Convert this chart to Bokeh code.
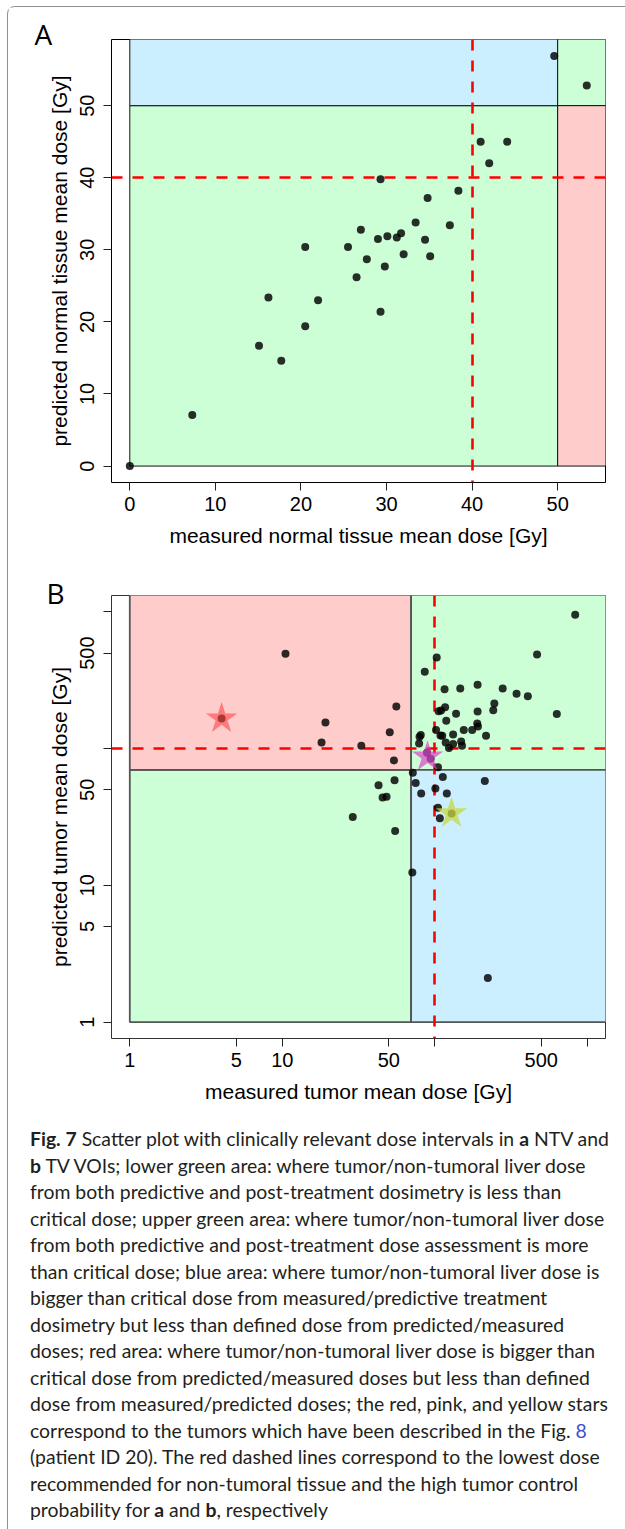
from bokeh.plotting import figure
from bokeh.models import Range1d, FixedTicker, Title, Div
from bokeh.layouts import column
from bokeh.embed import file_html
from bokeh.resources import INLINE

# ---------------- Panel A: normal tissue (NTV) ----------------
a_measured = [0.0, 7.3, 15.1, 17.7, 16.2, 22.0, 20.5, 29.3, 26.5, 29.8, 25.5, 20.5,
              27.7, 32.0, 35.1, 27.0, 29.0, 30.1, 31.2, 31.7, 34.5, 33.4, 37.4,
              34.8, 38.4, 29.3, 42.0, 41.0, 44.1, 49.6, 53.4]
a_predicted = [0.0, 7.1, 16.7, 14.6, 23.4, 23.0, 19.4, 21.4, 26.2, 27.7, 30.4, 30.4,
               28.7, 29.4, 29.1, 32.8, 31.5, 31.9, 31.7, 32.3, 31.4, 33.8, 33.4,
               37.2, 38.2, 39.8, 42.0, 45.0, 45.0, 56.9, 52.8]
a_ticks = [0, 10, 20, 30, 40, 50]
a_limit = 50      # dose interval boundary
a_dash = 40       # lowest recommended dose
a_xlim = (-2.14, 55.59)
a_ylim = (-2.28, 59.18)

# ---------------- Panel B: tumor (TV) ----------------
b_measured = [834, 10.5, 469, 103, 86, 116, 147, 191, 279, 344, 408, 56, 246, 242, 632,
              106, 110, 117, 138, 191, 119, 19.2, 190, 192, 155, 176, 50.7, 102, 81,
              79.5, 109, 112, 132, 217, 18.1, 33, 79, 118, 132, 149, 151, 124, 54,
              89, 94, 105, 71.8, 75, 113, 213, 54.5, 42.8, 101, 81.5, 120, 45.5, 48.3,
              105, 108, 29, 55, 129, 4.0, 71.3, 223]
b_predicted = [955, 494, 489, 464, 365, 272, 275, 293, 275, 252, 242, 203, 214, 191, 179,
               188, 190, 201, 180, 187, 160, 155, 153, 145, 137, 137, 132, 137, 126,
               122, 125, 124, 127, 124, 111, 105, 109, 111, 108, 113, 105, 101, 82,
               93.5, 84.5, 73, 66.7, 56, 62, 58, 58.7, 54, 51, 47, 47, 44, 44.5,
               37, 31, 31.6, 25, 33.6, 166, 12.4, 2.1]
b_ticks = [1, 5, 10, 50, 100, 500, 1000]
b_tick_labels = ["1", "5", "10", "50", "", "500", ""]
b_limit = 70
b_dash = 100
b_lim = (10 ** -0.12, 10 ** 3.12)

star_measured = [4.0, 89.7, 129]
star_predicted = [166, 87.4, 33.6]
star_colors = ["#ff4444", "#dd44cc", "#c8d840"]
star_alphas = [0.6, 0.7, 0.75]

GREEN = "#ccffd5"
BLUE = "#ccefff"
PINK = "#ffcccc"
FONT = "Liberation Sans"
BIG = 1e5


def style(p, line_color):
    p.outline_line_color = line_color
    p.outline_line_width = 1
    p.grid.visible = False
    p.background_fill_color = "white"
    for ax in p.axis:
        ax.major_tick_out = 8
        ax.major_tick_in = 0
        ax.minor_tick_out = 0
        ax.minor_tick_in = 0
        ax.axis_line_color = None
        ax.major_tick_line_color = "#222222"
        ax.major_label_text_font = FONT
        ax.major_label_text_font_size = "20px"
        ax.major_label_text_color = "black"
        ax.axis_label_text_font = FONT
        ax.axis_label_text_font_size = "21px"
        ax.axis_label_text_font_style = "normal"
        ax.axis_label_text_color = "black"
    p.yaxis.major_label_orientation = "vertical"
    p.xaxis.major_label_standoff = 6
    p.yaxis.major_label_standoff = 9
    p.xaxis.axis_label_standoff = 10
    p.yaxis.axis_label_standoff = 7


def panel_letter(p, letter, offset, standoff):
    p.add_layout(Title(text=letter, align="left", offset=offset, standoff=standoff,
                       text_font="Open Sans", text_font_size="28px",
                       text_font_style="normal", text_color="black"), "above")


# ---------- figure A ----------
pA = figure(frame_width=494, frame_height=443, min_border_left=103, min_border_right=20,
            min_border_top=32, min_border_bottom=83,
            x_range=Range1d(*a_xlim), y_range=Range1d(*a_ylim),
            output_backend="svg", toolbar_location=None, tools="")
style(pA, "black")
pA.xaxis.ticker = FixedTicker(ticks=a_ticks)
pA.yaxis.ticker = FixedTicker(ticks=a_ticks)
pA.xaxis.axis_label = "measured normal tissue mean dose [Gy]"
pA.yaxis.axis_label = "predicted normal tissue mean dose [Gy]"

pA.quad(left=[0, 0, a_limit, a_limit], right=[a_limit, a_limit, BIG, BIG],
        bottom=[0, a_limit, a_limit, 0], top=[a_limit, BIG, BIG, a_limit],
        fill_color=[GREEN, BLUE, GREEN, PINK], line_color="#111111", line_width=1)
pA.hspan(y=[a_dash], line_color="red", line_width=2.6, line_dash="11 10")
pA.vspan(x=[a_dash], line_color="red", line_width=2.6, line_dash="11 10")
pA.scatter(a_measured, a_predicted, size=8, fill_color="black", fill_alpha=0.82,
           line_color=None)
panel_letter(pA, "A", -77, -27)

# ---------- figure B ----------
pB = figure(frame_width=494, frame_height=443, min_border_left=103, min_border_right=20,
            min_border_top=30, min_border_bottom=77,
            x_axis_type="log", y_axis_type="log",
            x_range=Range1d(*b_lim), y_range=Range1d(*b_lim),
            output_backend="svg", toolbar_location=None, tools="")
style(pB, "#333333")
pB.xaxis.ticker = FixedTicker(ticks=b_ticks, minor_ticks=[])
pB.yaxis.ticker = FixedTicker(ticks=b_ticks, minor_ticks=[])
pB.xaxis.major_label_overrides = dict(zip(b_ticks, b_tick_labels))
pB.yaxis.major_label_overrides = dict(zip(b_ticks, b_tick_labels))
pB.xaxis.axis_label = "measured tumor mean dose [Gy]"
pB.yaxis.axis_label = "predicted tumor mean dose [Gy]"

pB.quad(left=[1, 1, b_limit, b_limit], right=[b_limit, b_limit, BIG, BIG],
        bottom=[1, b_limit, b_limit, 1], top=[b_limit, BIG, BIG, b_limit],
        fill_color=[GREEN, PINK, GREEN, BLUE], line_color="#555555", line_width=1.8)
pB.hspan(y=[b_dash], line_color="red", line_width=2.6, line_dash="11 10")
pB.vspan(x=[b_dash], line_color="red", line_width=2.6, line_dash="11 10")
pB.scatter(b_measured, b_predicted, size=8, fill_color="black", fill_alpha=0.82,
           line_color=None)
pB.scatter(star_measured, star_predicted, marker="star", size=33,
           fill_color=star_colors, fill_alpha=star_alphas, line_color=None)
panel_letter(pB, "B", -65, -32)

# ---------- caption ----------
caption_lines = [
    "<b>Fig. 7</b> Scatter plot with clinically relevant dose intervals in <b>a</b> NTV and",
    "<b>b</b> TV VOIs; lower green area: where tumor/non-tumoral liver dose",
    "from both predictive and post-treatment dosimetry is less than",
    "critical dose; upper green area: where tumor/non-tumoral liver dose",
    "from both predictive and post-treatment dose assessment is more",
    "than critical dose; blue area: where tumor/non-tumoral liver dose is",
    "bigger than critical dose from measured/predictive treatment",
    "dosimetry but less than defined dose from predicted/measured",
    "doses; red area: where tumor/non-tumoral liver dose is bigger than",
    "critical dose from predicted/measured doses but less than defined",
    "dose from measured/predicted doses; the red, pink, and yellow stars",
    "correspond to the tumors which have been described in the Fig. <span style=\"color:#3a4fd6\">8</span>",
    "(patient ID 20). The red dashed lines correspond to the lowest dose",
    "recommended for non-tumoral tissue and the high tumor control",
    "probability for <b>a</b> and <b>b</b>, respectively",
]
caption_html = ('<div style="font-family: Lato, sans-serif; font-size: 19.4px; '
                'line-height: 26.5px; white-space: nowrap; color: #231f20; '
                'padding: 6px 0 0 17px; margin: 0;">'
                + "<br>".join(caption_lines) + "</div>")
cap = Div(text=caption_html, width=617, height=414)

page = column(pA, pB, cap,
              styles={"margin-left": "7px", "margin-top": "6px",
                      "border-left": "1px solid #8f8f8f", "border-top": "1px solid #8f8f8f",
                      "border-top-left-radius": "8px"})

open("out.html", "w").write(file_html(page, INLINE))
